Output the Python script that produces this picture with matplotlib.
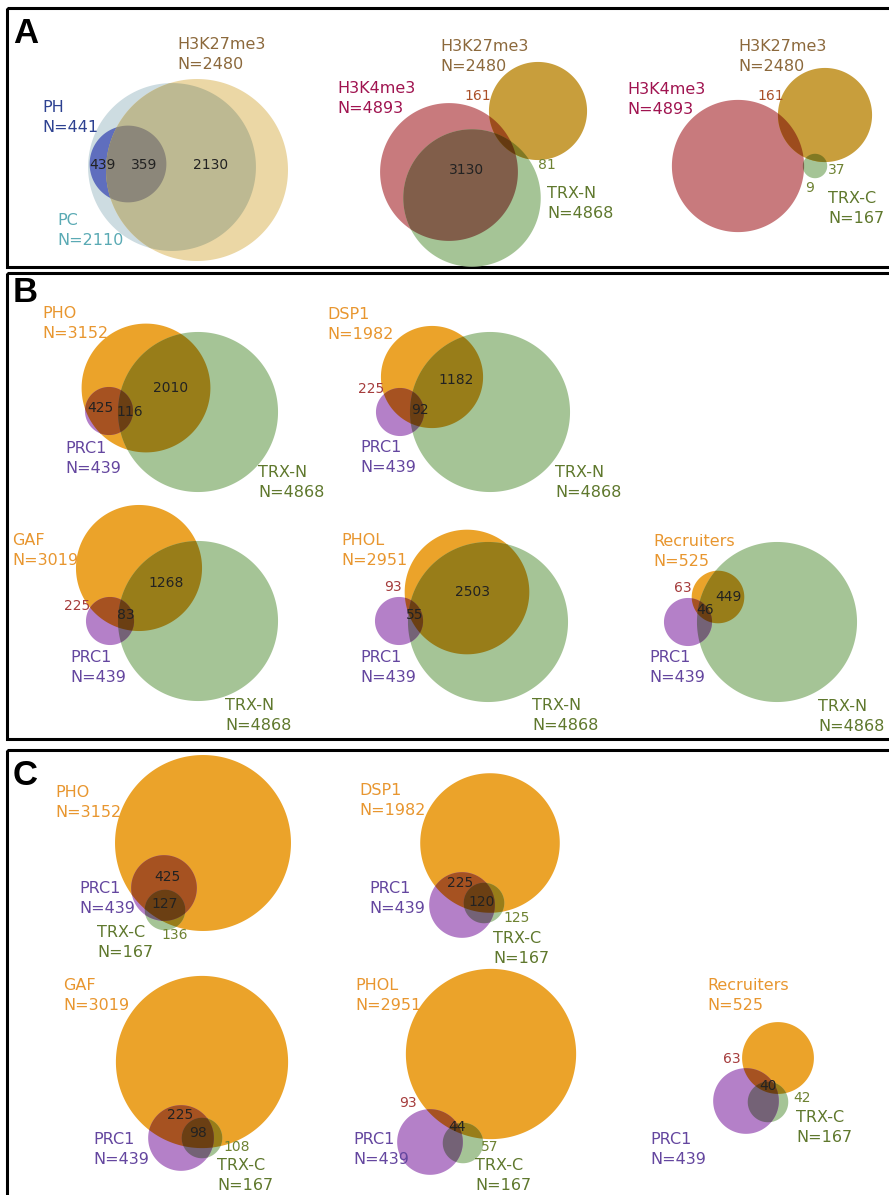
from itertools import combinations

import numpy as np
import matplotlib.pyplot as plt
from matplotlib.patches import Polygon, Rectangle

plt.rcParams["font.family"] = ["DejaVu Sans"]

# peak-set sizes
set_names = ["PH", "PC", "H3K27me3", "H3K4me3", "TRX-N", "TRX-C",
             "PHO", "DSP1", "GAF", "PHOL", "Recruiters", "PRC1"]
set_sizes = [441, 2110, 2480, 4893, 4868, 167,
             3152, 1982, 3019, 2951, 525, 439]

# overlap counts printed inside the diagrams
counts_a = [[439, 359, 2130], [161, 3130, 81], [161, 37, 9]]
counts_b = [[425, 116, 2010], [225, 92, 1182], [225, 83, 1268],
            [93, 55, 2503], [63, 46, 449]]
counts_c = [[425, 127, 136], [225, 120, 125], [225, 98, 108],
            [93, 44, 57], [63, 40, 42]]

SIZE = dict(zip(set_names, set_sizes))

# fills (flat colours, overlaps are multiplied)
ORANGE = (235, 163, 42)
GREEN = (165, 196, 150)
PURPLE = (180, 128, 200)
GOLD = (200, 158, 60)
ROSE = (200, 122, 125)
TAN = (235, 215, 165)
PALE_BLUE = (205, 220, 225)
BLUE = (118, 128, 215)

LABEL_COLOR = {"PH": "#2d4191", "PC": "#5aaab4", "H3K27me3": "#8c693c",
               "H3K4me3": "#a01450", "TRX-N": "#5f782d", "TRX-C": "#5f782d",
               "PRC1": "#64469f", "PHO": "#e8962f", "DSP1": "#e8962f",
               "GAF": "#e8962f", "PHOL": "#e8962f", "Recruiters": "#e8962f"}
DARK = "#222222"
RED = "#a53c3c"
OLIVE = "#6e8232"
BROWN = "#aa5028"

diagrams = [
    # panel A
    dict(sets=["PH", "PC", "H3K27me3"], fills=[BLUE, PALE_BLUE, TAN], scale=1.827,
         centers=[(128, 164), (172, 167), (197, 170)],
         labels=[(42, 107), (57, 220), (177, 44)],
         counts=counts_a[0], count_xy=[(103, 165), (144, 165), (211, 165)],
         count_colors=[DARK, DARK, DARK],
         override={(0, 1, 2): (140, 135, 122), (0, 2): (140, 135, 122)}),
    dict(sets=["H3K4me3", "TRX-N", "H3K27me3"], fills=[ROSE, GREEN, GOLD], scale=0.985,
         centers=[(449, 172), (472, 198), (538, 111)],
         labels=[(337, 88), (547, 193), (440, 46)],
         counts=counts_a[1], count_xy=[(478, 96), (466, 170), (547, 165)],
         count_colors=[BROWN, DARK, OLIVE]),
    dict(sets=["H3K4me3", "TRX-C", "H3K27me3"], fills=[ROSE, GREEN, GOLD], scale=0.945,
         centers=[(738, 166), (815, 166), (825, 115)],
         labels=[(627, 89), (828, 198), (738, 46)],
         counts=counts_a[2], count_xy=[(771, 96), (837, 170), (810, 188)],
         count_colors=[BROWN, OLIVE, OLIVE]),
    # panel B
    dict(sets=["PHO", "TRX-N", "PRC1"], fills=[ORANGE, GREEN, PURPLE], scale=1.147,
         centers=[(146, 388), (198, 412), (109, 411)],
         labels=[(42, 313), (258, 472), (65, 448)],
         counts=counts_b[0], count_xy=[(100, 408), (130, 412), (171, 388)],
         count_colors=[DARK, DARK, DARK]),
    dict(sets=["DSP1", "TRX-N", "PRC1"], fills=[ORANGE, GREEN, PURPLE], scale=1.147,
         centers=[(432, 377), (490, 412), (400, 412)],
         labels=[(327, 314), (555, 472), (360, 447)],
         counts=counts_b[1], count_xy=[(371, 389), (420, 410), (456, 380)],
         count_colors=[RED, DARK, DARK]),
    dict(sets=["GAF", "TRX-N", "PRC1"], fills=[ORANGE, GREEN, PURPLE], scale=1.147,
         centers=[(139, 568), (198, 621), (110, 621)],
         labels=[(12, 540), (225, 705), (70, 657)],
         counts=counts_b[2], count_xy=[(77, 606), (126, 615), (166, 583)],
         count_colors=[RED, DARK, DARK]),
    dict(sets=["PHOL", "TRX-N", "PRC1"], fills=[ORANGE, GREEN, PURPLE], scale=1.147,
         centers=[(467, 592), (488, 622), (399, 621)],
         labels=[(341, 540), (532, 705), (360, 657)],
         counts=counts_b[3], count_xy=[(393, 587), (415, 615), (473, 592)],
         count_colors=[RED, DARK, DARK]),
    dict(sets=["Recruiters", "TRX-N", "PRC1"], fills=[ORANGE, GREEN, PURPLE], scale=1.147,
         centers=[(718, 597), (777, 622), (688, 622)],
         labels=[(653, 541), (818, 706), (649, 657)],
         counts=counts_b[4], count_xy=[(683, 588), (705, 610), (728, 597)],
         count_colors=[RED, DARK, DARK]),
    # panel C
    dict(sets=["PHO", "TRX-C", "PRC1"], fills=[ORANGE, GREEN, PURPLE], scale=1.567,
         centers=[(203, 843), (165, 910), (164, 888)],
         labels=[(55, 792), (97, 932), (79, 888)],
         counts=counts_c[0], count_xy=[(167, 877), (165, 904), (175, 935)],
         count_colors=[DARK, DARK, OLIVE]),
    dict(sets=["DSP1", "TRX-C", "PRC1"], fills=[ORANGE, GREEN, PURPLE], scale=1.567,
         centers=[(490, 843), (484, 903), (462, 905)],
         labels=[(359, 790), (493, 938), (369, 888)],
         counts=counts_c[1], count_xy=[(460, 883), (482, 902), (517, 918)],
         count_colors=[DARK, DARK, OLIVE]),
    dict(sets=["GAF", "TRX-C", "PRC1"], fills=[ORANGE, GREEN, PURPLE], scale=1.567,
         centers=[(202, 1062), (202, 1138), (181, 1138)],
         labels=[(63, 985), (217, 1165), (93, 1140)],
         counts=counts_c[2], count_xy=[(180, 1115), (198, 1133), (237, 1147)],
         count_colors=[DARK, DARK, OLIVE]),
    dict(sets=["PHOL", "TRX-C", "PRC1"], fills=[ORANGE, GREEN, PURPLE], scale=1.567,
         centers=[(491, 1054), (463, 1143), (430, 1142)],
         labels=[(355, 985), (475, 1166), (353, 1140)],
         counts=counts_c[3], count_xy=[(408, 1103), (457, 1127), (490, 1147)],
         count_colors=[RED, DARK, OLIVE]),
    dict(sets=["Recruiters", "TRX-C", "PRC1"], fills=[ORANGE, GREEN, PURPLE], scale=1.567,
         centers=[(778, 1058), (768, 1102), (746, 1101)],
         labels=[(707, 985), (796, 1117), (650, 1140)],
         counts=counts_c[4], count_xy=[(732, 1059), (768, 1086), (802, 1098)],
         count_colors=[RED, DARK, OLIVE]),
]


def common_area(circles, n=720):
    """Outline of the area shared by all given circles (convex, so sort by angle)."""
    t = np.linspace(0, 2 * np.pi, n, endpoint=False)
    pts = []
    for i, (cx, cy, r) in enumerate(circles):
        p = np.column_stack([cx + r * np.cos(t), cy + r * np.sin(t)])
        keep = np.ones(len(p), bool)
        for j, (ox, oy, orr) in enumerate(circles):
            if j != i:
                keep &= np.hypot(p[:, 0] - ox, p[:, 1] - oy) <= orr + 1e-9
        pts.append(p[keep])
    pts = np.vstack(pts)
    if len(pts) < 3:
        return None
    c = pts.mean(axis=0)
    return pts[np.argsort(np.arctan2(pts[:, 1] - c[1], pts[:, 0] - c[0]))]


def draw_venn(ax, d):
    circles = [(cx, cy, d["scale"] * np.sqrt(SIZE[s]))
               for s, (cx, cy) in zip(d["sets"], d["centers"])]
    override = d.get("override", {})
    for k in range(1, len(circles) + 1):
        for combo in combinations(range(len(circles)), k):
            outline = common_area([circles[i] for i in combo])
            if outline is None:
                continue
            rgb = np.ones(3)
            for i in combo:
                rgb *= np.array(d["fills"][i]) / 255
            if combo in override:
                rgb = np.array(override[combo]) / 255
            ax.add_patch(Polygon(outline, closed=True, facecolor=rgb,
                                 edgecolor="none", zorder=1 + k))
    for s, (x, y) in zip(d["sets"], d["labels"]):
        col = LABEL_COLOR[s]
        ax.text(x, y, s, color=col, fontsize=11.5, ha="left", va="center", zorder=10)
        ax.text(x, y + 20, f"N={SIZE[s]}", color=col, fontsize=11.5,
                ha="left", va="center", zorder=10)
    for val, (x, y), col in zip(d["counts"], d["count_xy"], d["count_colors"]):
        ax.text(x, y, str(val), color=col, fontsize=10, ha="center", va="center",
                zorder=10)


fig = plt.figure(figsize=(8.89, 11.95), dpi=100)
ax = fig.add_axes([0, 0, 1, 1])
ax.set_xlim(0, 889)
ax.set_ylim(1195, 0)
ax.axis("off")

# panel frames
for y0, y1 in [(8, 267), (273, 739), (750, 1205)]:
    ax.add_patch(Rectangle((7, y0), 900, y1 - y0, fill=False, edgecolor="black",
                           linewidth=2.2, zorder=0))
for letter, y in [("A", 43), ("B", 302), ("C", 785)]:
    ax.text(13, y, letter, fontsize=25, fontweight="bold", family="Liberation Sans",
            ha="left", va="baseline", zorder=10)

for d in diagrams:
    draw_venn(ax, d)

fig.savefig("out.png", dpi=100)
